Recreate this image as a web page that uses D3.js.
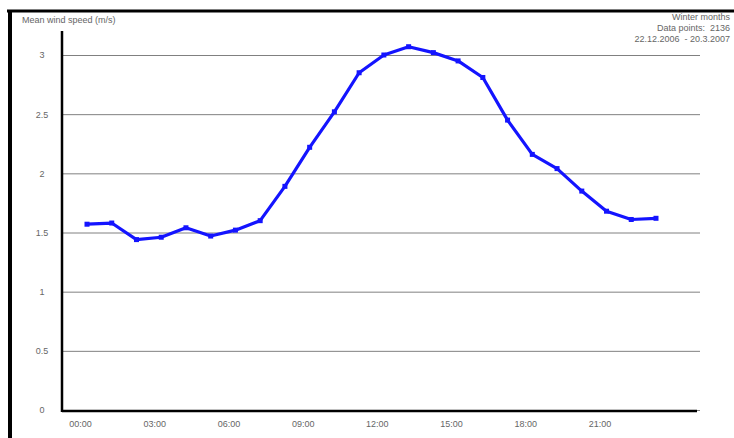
<!DOCTYPE html>
<html>
<head>
<meta charset="utf-8">
<script src="https://cdn.jsdelivr.net/npm/d3@7"></script>
<style>
  body { margin: 0; background: #fff; }
  svg { display: block; font-family: "Liberation Sans", Arial, sans-serif; }
</style>
</head>
<body>
<div id="chart"></div>
<script>
// data: mean wind speed per hour of day (winter months)
const hours = d3.range(0, 24);
const speeds = [1.57, 1.58, 1.44, 1.46, 1.54, 1.47, 1.52, 1.60, 1.89, 2.22, 2.52, 2.85,
                3.00, 3.07, 3.02, 2.95, 2.81, 2.45, 2.16, 2.04, 1.85, 1.68, 1.61, 1.62];
const tickHours = [0, 3, 6, 9, 12, 15, 18, 21];
const tickLabels = ["00:00", "03:00", "06:00", "09:00", "12:00", "15:00", "18:00", "21:00"];
const yTicks = [0, 0.5, 1, 1.5, 2, 2.5, 3];
const yTitle = "Mean wind speed (m/s)";
const infoLines = ["Winter months", "Data points:  2136", "22.12.2006  - 20.3.2007"];

const width = 734, height = 438;

const svg = d3.select("#chart")
  .append("svg")
  .attr("width", width)
  .attr("height", height);

// frame
svg.append("line")
  .attr("x1", 7).attr("x2", width).attr("y1", 11).attr("y2", 11)
  .attr("stroke", "#000").attr("stroke-width", 3);
svg.append("line")
  .attr("x1", 10).attr("x2", 10).attr("y1", 10).attr("y2", height)
  .attr("stroke", "#000").attr("stroke-width", 4);

// scales
const axisLeftX = 62, axisRightX = 700;
const scaleX = d3.scaleLinear().domain([0, 23]).range([87, 656]);
const scaleY = d3.scaleLinear().domain([0, 3]).range([410, 55]);

// grid + y labels
const groupAxisY = svg.append("g")
  .attr("class", "groupAxisY")
  .attr("transform", `translate(${axisLeftX}, 0)`)
  .call(d3.axisLeft(scaleY).tickValues(yTicks).tickSize(-(axisRightX - axisLeftX)).tickFormat(d3.format("")))
  .call(g => g.select(".domain").remove());
groupAxisY.selectAll(".tick line")
  .attr("stroke", "#808080")
  .attr("stroke-width", 1);
groupAxisY.selectAll(".tick text")
  .attr("x", -20)
  .attr("text-anchor", "middle")
  .attr("fill", "#666")
  .attr("font-size", 9);

// x labels
const groupAxisX = svg.append("g")
  .attr("class", "groupAxisX")
  .attr("transform", `translate(0, 411)`)
  .call(d3.axisBottom(scaleX).tickValues(tickHours).tickSize(0).tickFormat((d, i) => tickLabels[i]))
  .call(g => g.select(".domain").remove());
groupAxisX.selectAll(".tick text")
  .attr("dx", -7)
  .attr("y", 10)
  .attr("fill", "#666")
  .attr("font-size", 9);

// axis lines
svg.append("line")
  .attr("x1", axisLeftX).attr("x2", axisLeftX)
  .attr("y1", 31).attr("y2", 412)
  .attr("stroke", "#000").attr("stroke-width", 2.5);
svg.append("line")
  .attr("x1", axisLeftX).attr("x2", 697)
  .attr("y1", scaleY(0) + 1).attr("y2", scaleY(0) + 1)
  .attr("stroke", "#000").attr("stroke-width", 2.5);

// series
const points = hours.map((h, i) => ({ h, v: speeds[i] }));
svg.append("path")
  .datum(points)
  .attr("fill", "none")
  .attr("stroke", "#1414ff")
  .attr("stroke-width", 3.2)
  .attr("stroke-linejoin", "round")
  .attr("d", d3.line().x(d => scaleX(d.h)).y(d => scaleY(d.v)));
svg.append("g")
  .selectAll("rect")
  .data(points)
  .join("rect")
  .attr("x", d => scaleX(d.h) - 2.5)
  .attr("y", d => scaleY(d.v) - 2.5)
  .attr("width", 5)
  .attr("height", 5)
  .attr("fill", "#1414ff");

// titles
svg.append("text")
  .attr("x", 22).attr("y", 23)
  .attr("fill", "#666")
  .attr("font-size", 9)
  .text(yTitle);

const info = svg.append("g")
  .attr("fill", "#666")
  .attr("font-size", 9)
  .attr("text-anchor", "end");
info.selectAll("text")
  .data(infoLines)
  .join("text")
  .attr("x", 730)
  .attr("y", (d, i) => 20 + i * 11)
  .attr("xml:space", "preserve")
  .text(d => d);
</script>
</body>
</html>
